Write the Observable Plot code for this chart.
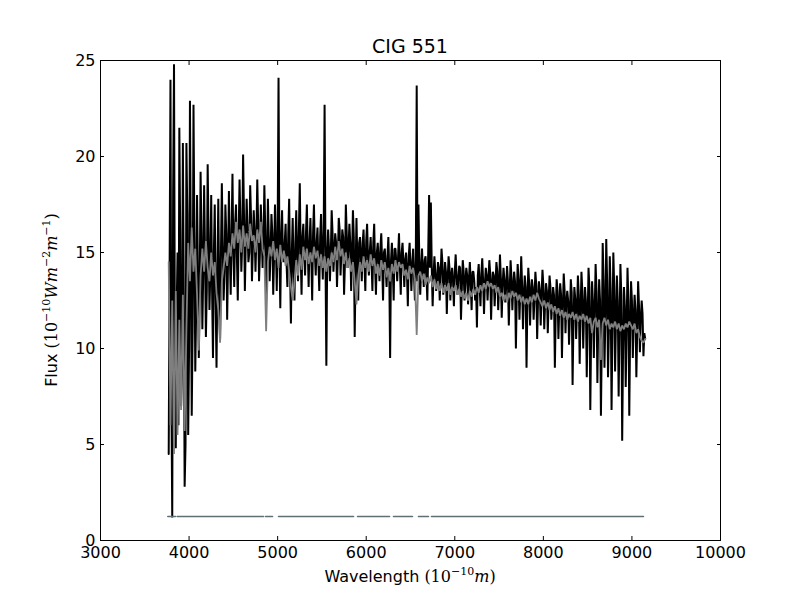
<!DOCTYPE html>
<html><head><meta charset="utf-8">
<script src="https://cdn.jsdelivr.net/npm/d3@7"></script>
<script src="https://cdn.jsdelivr.net/npm/@observablehq/plot@0.6"></script>
<style>body{margin:0;background:#fff}#chart{width:800px;height:600px}</style>
</head><body><div id="chart"></div>
<script>
const title = "CIG 551";
const xTicks = [3000, 4000, 5000, 6000, 7000, 8000, 9000, 10000];
const yTicks = [0, 5, 10, 15, 20, 25];
const wavelengthStart = 3770;
const wavelengthStep = 20;

// observed spectrum (black), samples at 3770, 3790, ... 9150 Å
const observedFlux = [
  4.5, 24.0, 1.2, 24.8, 4.8, 15, 21.5, 7, 20.7, 2.8,
  20.7, 5.5, 22.9, 6.5, 22.7, 8.8, 18, 9.5, 19.2, 11,
  18.5, 10.6, 19.6, 12, 18, 9.5, 17.5, 9.0, 17.8, 10.5,
  18.6, 12.5, 17.5, 11.5, 18.2, 12.8, 19.1, 13.2, 17.5, 12.5,
  18.8, 14, 20.1, 13, 17.8, 14.5, 18.5, 13.5, 17.2, 14,
  18.8, 13.5, 17.5, 14.2, 18.5, 12.5, 17.8, 13.5, 17, 12.8,
  17.5, 13, 24.1, 12.1, 17.2, 14.5, 16.5, 13.2, 17.8, 11.3,
  16.8, 12.5, 17.2, 13.5, 18.6, 12.8, 16.5, 13.8, 17.5, 13.2,
  16.8, 12.5, 17.5, 13.8, 16.3, 13, 17, 13.6, 22.7, 9.1,
  16.2, 13.5, 17.2, 14, 16, 13.2, 16.8, 13.8, 16.2, 12.8,
  17.5, 14.2, 16.5, 13, 17.2, 10.6, 16.8, 12.5, 15.8, 13.5,
  16.2, 13, 16.5, 13.8, 15.8, 13, 16.5, 12.8, 15.5, 13.5,
  16, 12.5, 15.2, 13.2, 15.8, 9.5, 15.5, 12.5, 15.2, 13.5,
  16, 12.8, 15.5, 13.2, 15, 12.2, 15.5, 13, 15.2, 12.5,
  23.7, 17.5, 12.8, 15.2, 13.2, 14.8, 12.5, 18, 17.6, 12.2,
  14.8, 13, 14.5, 12.5, 15.2, 12.8, 14.5, 11.8, 14.8, 12.5,
  14.2, 12.2, 14.9, 12.8, 14.3, 11.5, 14.6, 12.5, 14.2, 12.3,
  14.5, 12, 14, 12.5, 11.1, 14.4, 12.2, 14.7, 11.8, 14.2,
  12.5, 14.6, 11.5, 14, 12.2, 14.5, 12, 14.9, 11.6, 14.2,
  12.4, 14.3, 11.2, 14.6, 12, 14, 10, 14.4, 11.5, 14.8,
  11, 13.8, 9, 14.2, 11.2, 13.6, 11.5, 14, 10.5, 13.5,
  11.2, 14.1, 11, 13.4, 10.8, 13.8, 11.5, 13.2, 9, 13.6,
  10.5, 13.4, 9.5, 13.9, 10.8, 13, 10.2, 13.6, 8.1, 13.2,
  10.5, 13.8, 9.2, 14, 10, 13.2, 8.5, 14.2, 6.8, 13.5,
  9.5, 14.4, 8.2, 13.6, 6.5, 15.5, 9, 15.7, 8.5, 14.8,
  6.8, 15, 8.8, 13.8, 7.5, 14.4, 5.2, 13.2, 8, 14.2,
  6.5, 13.5, 9.5, 12.8, 8.5, 13.5, 9.8, 12.5, 9.6, 10.5
];
// observed spectrum (black), samples in between, at 3780, 3800, ... 9140 Å
const observedFluxMid = [
  14, 8, 18, 10, 12, 6, 16, 9, 13, 5,
  17, 10, 15, 11, 16, 12, 14, 13, 16, 14,
  15, 13, 16, 14, 13, 15, 12.5, 14, 13, 15,
  15.5, 14, 16, 14.5, 15, 16, 15, 16.5, 14.8, 16,
  16.5, 15.5, 17, 15.5, 16.2, 15, 16.8, 15.2, 16, 15.8,
  16.5, 15, 16, 15.5, 16.2, 14.5, 15.8, 15, 16, 14.8,
  15.5, 16, 15, 15.8, 14.8, 15.5, 14.5, 16, 14.2, 15,
  14, 15.5, 14.8, 16.2, 15, 15.8, 14.8, 16, 15.2, 15.5,
  14.8, 16, 15, 15.5, 14.5, 15.8, 15, 16.2, 14.8, 15,
  15.2, 14.8, 16, 15, 15.5, 14.8, 16.2, 15, 15.8, 14.5,
  16, 15.2, 15.5, 14.8, 15.8, 14, 14.5, 15.5, 14.8, 15.5,
  14.5, 15.6, 14.8, 15, 14.5, 15.5, 14.3, 15, 14.6, 15.2,
  14.4, 15, 14.2, 14.8, 14, 14.6, 14.2, 15.2, 14.5, 14.8,
  14.3, 15, 14.5, 14.6, 14, 14.8, 14.2, 14.5, 13.8, 14.6,
  13.5, 14.5, 14.2, 14, 14.6, 13.8, 15, 14.2, 14.2, 13.8,
  14, 13.5, 14.2, 13.8, 14.5, 13.5, 14, 13.6, 14.2, 13.8,
  13.5, 14, 13.8, 13.6, 14.2, 13.2, 14, 13.5, 13.8, 13.6,
  13.4, 14, 13.5, 13.2, 13.8, 13.3, 13.9, 13.5, 13.4, 13.8,
  13.6, 13.9, 13.3, 13.8, 13.4, 14, 13.2, 13.7, 13.3, 13.6,
  13.2, 13.5, 13, 13.7, 13.2, 13.5, 12.8, 13.6, 13, 13.3,
  12.8, 13.2, 12.5, 13.4, 12.9, 13.2, 12.6, 13.3, 12.5, 13,
  12.8, 13.3, 12.4, 13, 12.5, 13.2, 12.3, 12.8, 12, 13,
  12.2, 12.8, 12, 13, 12.4, 12.5, 11.8, 12.9, 11.5, 12.6,
  12, 12.8, 11.8, 13, 12, 12.5, 11.5, 13.2, 11, 12.4,
  12, 13, 11.5, 12.5, 10.5, 13.5, 11.5, 13.5, 11, 13,
  11, 13.2, 11.5, 12.5, 11, 12.8, 10, 12.2, 11, 12.5,
  11, 12.5, 11.5, 12, 11, 12.2, 11.5, 11.8, 10.8
];

// synthetic / model spectrum (grey), samples at 3770, 3790, ... 9150 Å
const modelFlux = [
  14.5, 6, 12.5, 4.5, 13, 5.5, 11.5, 6.8, 12.8, 5.7,
  11, 15.5, 13.5, 16.3, 14, 15.2, 12.8, 9.9, 13.8, 15.2,
  14, 15.6, 14.2, 13.5, 15, 13.8, 14.5, 12.9, 12, 10.3,
  13.5, 14.2, 15, 14.3, 15.5, 14.8, 16, 15.2, 16.6, 15.5,
  16.2, 15, 16.4, 15.3, 16, 15.2, 16.5, 15.6, 15.9, 15,
  16.2, 15.5, 16.6, 15.2, 14.8, 10.9, 14.5, 15.3, 14.8, 15.6,
  14.6, 15.2, 14.2, 15.4, 14.5, 15.1, 14.3, 14.8, 14, 13.2,
  12.5, 13.5, 14.6, 13.8, 14.9, 14.1, 15.3, 14.6, 15.2, 14.4,
  15, 14.5, 15.3, 14.7, 15.1, 14.3, 14.9, 14.2, 14.8, 14,
  14.7, 14.3, 15, 14.5, 15.3, 14.6, 15.6, 14.8, 15.2, 14.4,
  15, 14.2, 14.7, 14, 14.5, 13.5, 12.3, 13.8, 14.5, 14,
  14.8, 14.2, 14.6, 14, 14.9, 14.3, 14.7, 13.9, 14.4, 13.8,
  14.6, 14.1, 14.5, 13.7, 14.2, 13.5, 14.4, 13.9, 14.6, 14,
  14.5, 14.2, 14.4, 13.8, 14.1, 13.6, 14.3, 13.9, 14.2, 13.6,
  10.7, 13.8, 14, 13.5, 13.9, 13.3, 13.7, 13.4, 13.8, 13.2,
  13.6, 13.1, 13.5, 13, 13.4, 12.9, 13.3, 13, 13.4, 12.8,
  13.2, 13, 13.3, 12.8, 13.1, 12.7, 13, 12.6, 12.9, 12.5,
  13, 12.7, 13.1, 12.8, 13.2, 12.9, 13.3, 13, 13.4, 13.1,
  13.5, 13.2, 13.4, 13.1, 13.3, 12.9, 13.2, 12.7, 12.9, 12.5,
  12.8, 12.4, 12.9, 12.6, 13, 12.7, 12.9, 12.5, 12.8, 12.4,
  12.7, 12.3, 12.6, 12.3, 12.7, 12.4, 12.8, 12.5, 12.9, 12.6,
  12.4, 12.2, 12.5, 12.1, 12.4, 12, 12.3, 11.9, 12.2, 11.8,
  12.1, 11.7, 12, 11.6, 11.9, 11.5, 11.8, 11.6, 11.9, 11.5,
  11.8, 11.4, 11.7, 11.5, 11.8, 11.4, 11.7, 11.3, 11.6, 10.8,
  11.4, 11.6, 11.1, 11.5, 9.4, 11.3, 11.6, 11.2, 11.5, 11,
  11.3, 11.1, 11.4, 11, 11.3, 10.9, 11.2, 11, 11.3, 11.1,
  11.4, 11.2, 11, 11.3, 10.8, 11, 10.6, 10.4, 10.3, 10.5
];

// good-pixel mask segments drawn at a constant level
const maskStarts = [3760, 3866, 4863, 5010, 5902, 6308, 6590, 6737];
const maskEnds   = [3847, 4840, 4942, 5857, 6263, 6522, 6703, 9130];
const maskLevel = 1.25;

const observed = observedFlux.flatMap((f, i) => {
  const w = wavelengthStart + i * wavelengthStep;
  const rows = [{w, f}];
  if (i < observedFluxMid.length) rows.push({w: w + wavelengthStep / 2, f: observedFluxMid[i]});
  return rows;
});
const model = modelFlux.map((f, i) => ({w: wavelengthStart + i * wavelengthStep, f}));
const mask = maskStarts.flatMap((s, i) => [{w: s, f: maskLevel, seg: i}, {w: maskEnds[i], f: maskLevel, seg: i}]);

const font = "DejaVu Sans";
const plot = Plot.plot({
  width: 800, height: 600,
  marginLeft: 100, marginRight: 80, marginTop: 60, marginBottom: 60,
  style: {fontFamily: font, fontSize: "16px", background: "#fff", color: "#000"},
  x: {domain: [3000, 10000]},
  y: {domain: [0, 25]},
  marks: [
    Plot.line(observed, {x: "w", y: "f", stroke: "#000", strokeWidth: 2, strokeLinejoin: "bevel"}),
    Plot.line(model, {x: "w", y: "f", stroke: "#7f7f7f", strokeWidth: 1.8, strokeLinejoin: "bevel"}),
    Plot.line(mask, {x: "w", y: "f", z: "seg", stroke: "#5f6f73", strokeWidth: 1.6}),
    Plot.frame({stroke: "#000", strokeWidth: 1}),
    Plot.axisX({anchor: "bottom", ticks: xTicks, tickFormat: "d", tickSize: -4, tickPadding: 10, label: null, fontSize: 16}),
    Plot.axisX({anchor: "top", ticks: xTicks, tickFormat: () => "", tickSize: -4, label: null}),
    Plot.axisY({anchor: "left", ticks: yTicks, tickFormat: "d", tickSize: -4, tickPadding: 9, label: null, fontSize: 16}),
    Plot.axisY({anchor: "right", ticks: yTicks, tickFormat: () => "", tickSize: -4, label: null})
  ]
});
document.getElementById("chart").appendChild(plot);

const svg = d3.select(plot);
svg.append("text").attr("x", 410).attr("y", 53).attr("text-anchor", "middle")
  .attr("font-family", font).attr("font-size", 19).attr("fill", "#000").text(title);

function mathLabel(sel, parts) {
  parts.forEach(p => {
    const t = sel.append("tspan").text(p.t);
    if (p.italic) t.attr("font-style", "italic");
    if (p.serif) t.attr("font-family", "DejaVu Serif");
    if (p.size) t.attr("font-size", p.size);
    if (p.dy) t.attr("dy", p.dy);
  });
}
const xl = svg.append("text").attr("x", 410).attr("y", 582).attr("text-anchor", "middle")
  .attr("font-family", font).attr("font-size", 16).attr("fill", "#000");
mathLabel(xl, [
  {t: "Wavelength "},
  {t: "(10", serif: true},
  {t: "−10", serif: true, size: 11, dy: -7},
  {t: "m", serif: true, italic: true, dy: 7},
  {t: ")", serif: true}
]);
const yl = svg.append("text").attr("transform", "translate(57,300) rotate(-90)").attr("text-anchor", "middle")
  .attr("font-family", font).attr("font-size", 16).attr("fill", "#000");
mathLabel(yl, [
  {t: "Flux "},
  {t: "(10", serif: true},
  {t: "−10", serif: true, size: 11, dy: -7},
  {t: "W", serif: true, italic: true, dy: 7},
  {t: "m", serif: true, italic: true},
  {t: "−2", serif: true, size: 11, dy: -7},
  {t: "m", serif: true, italic: true, dy: 7},
  {t: "−1", serif: true, size: 11, dy: -7},
  {t: ")", serif: true, dy: 7}
]);
</script>
</body></html>
